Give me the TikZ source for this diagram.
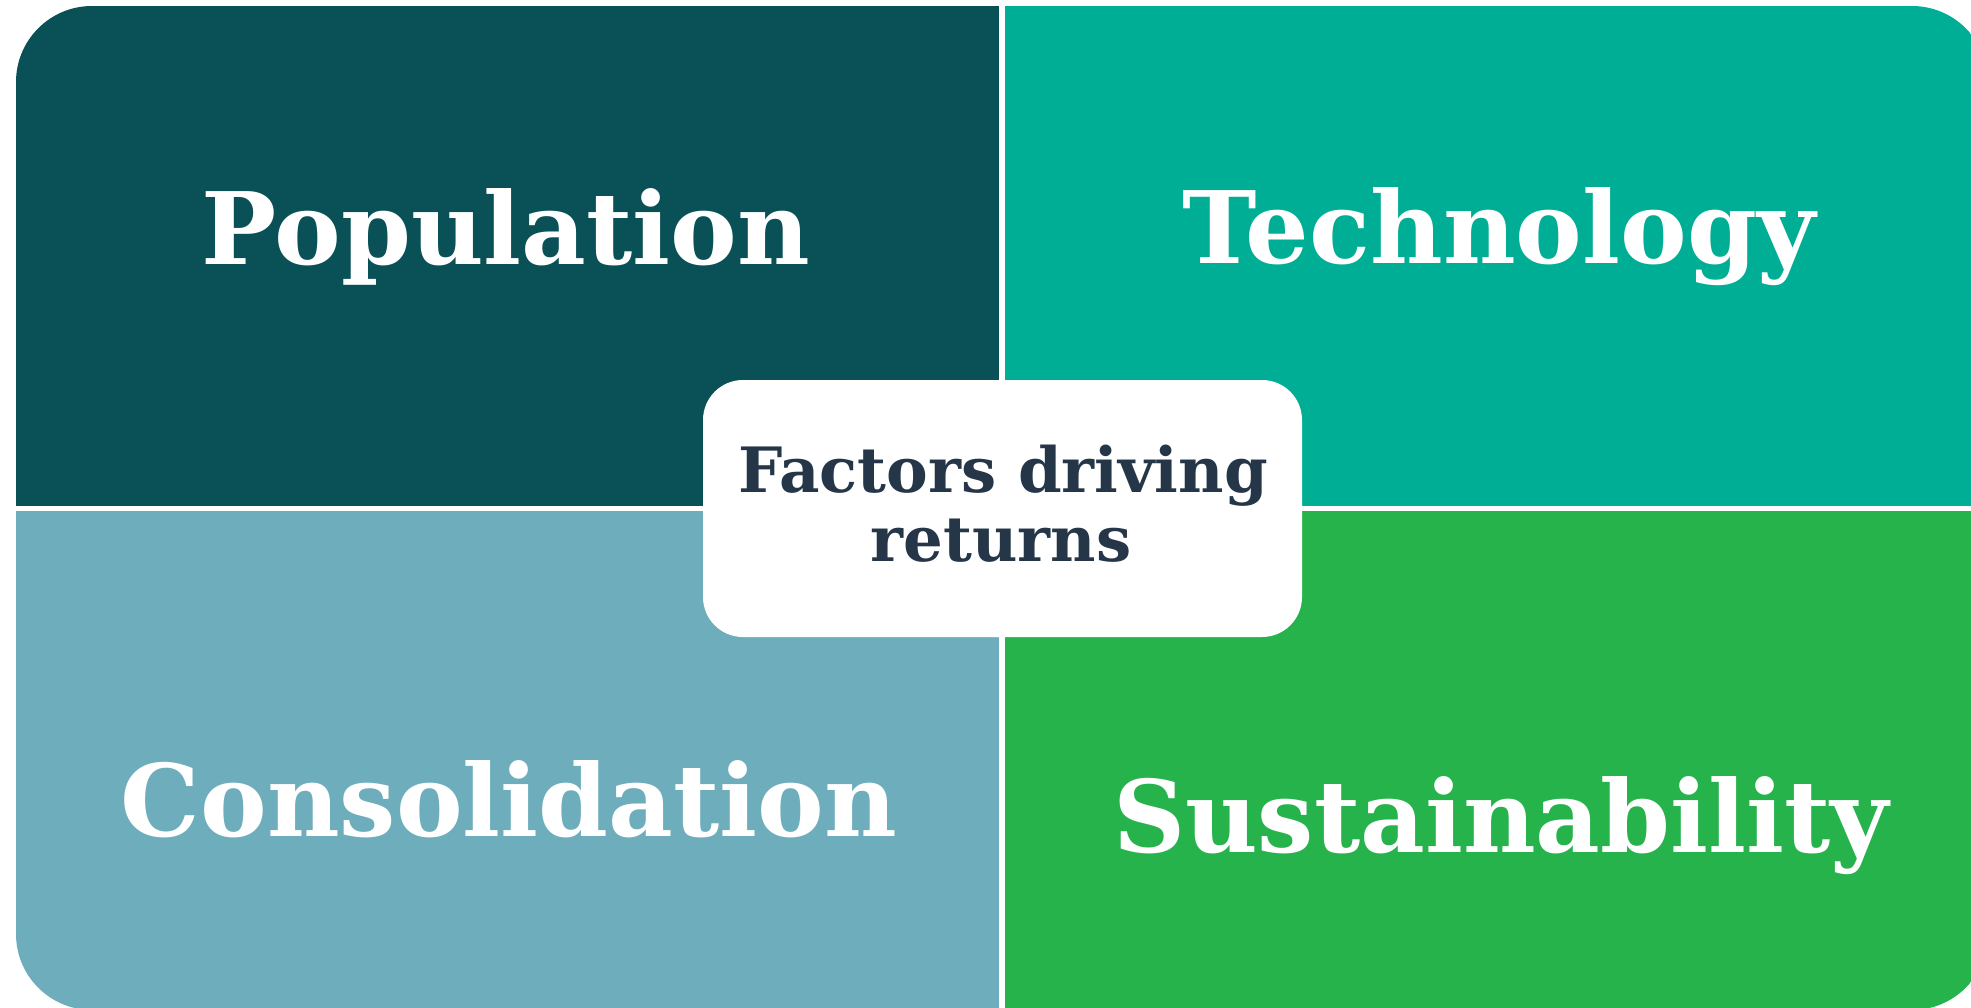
\documentclass[tikz,border=0pt]{standalone}
\usepackage{fontspec}
\setmainfont{DejaVu Serif}
\definecolor{popfill}{HTML}{095057}
\definecolor{techfill}{HTML}{00AE96}
\definecolor{consfill}{HTML}{6EAEBC}
\definecolor{sustfill}{HTML}{27B34C}
\definecolor{hubink}{HTML}{253648}
\begin{document}
\begin{tikzpicture}[x=1pt,y=-1pt,
  quadlabel/.style={font=\fontsize{100}{110}\selectfont\bfseries, text=white, anchor=base, inner sep=0pt},
  hublabel/.style={font=\fontsize{62.5}{69}\selectfont\bfseries, text=hubink, anchor=base, inner sep=0pt},
  hubbox/.style={fill=white, rounded corners=40pt, minimum width=599pt, minimum height=257pt, inner sep=0pt}]
\useasboundingbox (0,0) rectangle (1971,1008);
\clip (0,0) rectangle (1971,1008);
% four quadrants of one rounded block, split by thin white gaps
\begin{scope}
  \clip[rounded corners=76pt] (16,6) rectangle (1988,1010);
  \fill[popfill]  (16,6)       rectangle (999,505.7);
  \fill[techfill] (1004.5,6)   rectangle (1988,505.7);
  \fill[consfill] (16,511.2)   rectangle (999,1010);
  \fill[sustfill] (1004.5,511.2) rectangle (1988,1010);
\end{scope}
% quadrant labels
\node[quadlabel] (population)     at (506,264.6)  {Population};
\node[quadlabel] (technology)     at (1499,264)   {Technology};
\node[quadlabel] (consolidation)  at (509,836)    {Consolidation};
\node[quadlabel] (sustainability) at (1501,852)   {Sustainability};
% central hub
\node[hubbox] (hub) at (1002.5,508.5) {};
\node[hublabel] (hubtop)    at (1003,492) {Factors driving};
\node[hublabel] (hubbottom) at (1001,561) {returns};
\end{tikzpicture}
\end{document}
